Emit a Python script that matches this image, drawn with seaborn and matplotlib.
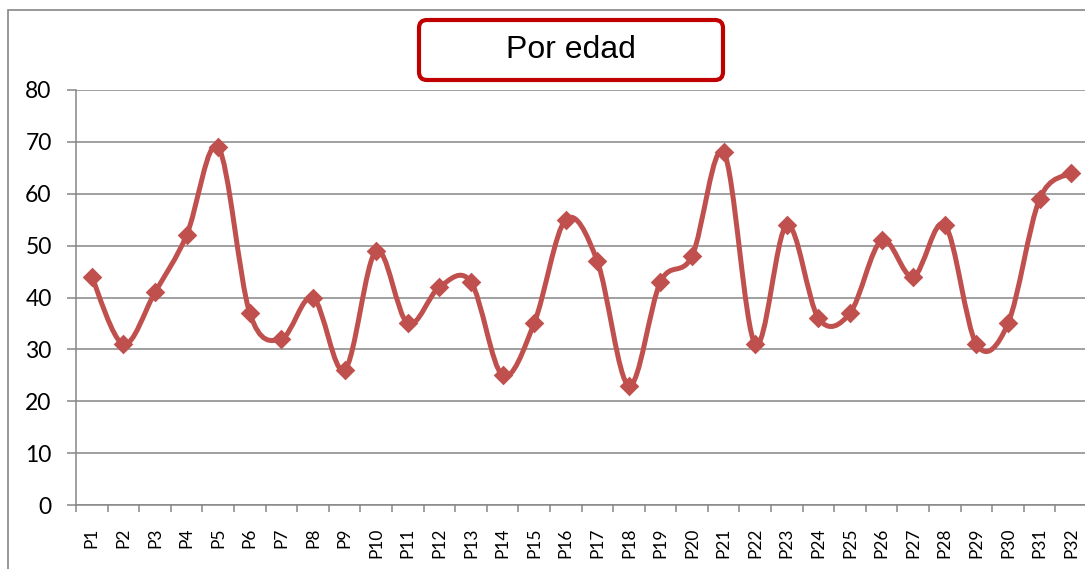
import matplotlib

matplotlib.use("Agg")
import matplotlib.pyplot as plt
from matplotlib.patches import FancyBboxPatch, PathPatch, Rectangle
from matplotlib.path import Path
import numpy as np
import pandas as pd
import seaborn as sns


LABELS = [f"P{i}" for i in range(1, 33)]
VALUES = [
    44, 31, 41, 52, 69, 37, 32, 40, 26, 49, 35, 42, 43, 25, 35, 55,
    47, 23, 43, 48, 68, 31, 54, 36, 37, 51, 44, 54, 31, 35, 59, 64,
]
TITLE = "Por edad"
Y_TICKS = list(range(0, 90, 10))

LINE_COLOR = "#C0504D"
GRID_COLOR = "#868686"
BOX_COLOR = "#C00000"


def smooth_path(x, y) -> Path:
    # Excel-style smoothed line: cubic Bezier segments through every point
    pts = np.column_stack([x, y]).astype(float)
    padded = np.vstack([pts[0], pts, pts[-1]])
    verts = [pts[0]]
    codes = [Path.MOVETO]
    for i in range(len(pts) - 1):
        p0, p1, p2, p3 = padded[i], padded[i + 1], padded[i + 2], padded[i + 3]
        verts += [p1 + (p2 - p0) / 6, p2 - (p3 - p1) / 6, p2]
        codes += [Path.CURVE4] * 3
    return Path(verts, codes)


def main() -> None:
    sns.set_style("white")
    plt.rcParams["font.family"] = ["Lato", "DejaVu Sans"]

    df = pd.DataFrame({"pos": np.arange(len(LABELS)), "label": LABELS, "value": VALUES})

    fig = plt.figure(figsize=(10.85, 5.69), dpi=100)
    ax = fig.add_axes([76 / 1085, 1 - 505 / 569, 1011 / 1085, 415 / 569])

    ax.add_patch(
        PathPatch(
            smooth_path(df["pos"], df["value"]),
            facecolor="none",
            edgecolor=LINE_COLOR,
            linewidth=3.6,
            capstyle="round",
            joinstyle="round",
            zorder=3,
        )
    )
    sns.scatterplot(
        data=df, x="pos", y="value", ax=ax, marker="D", s=100,
        color=LINE_COLOR, edgecolor=LINE_COLOR, linewidth=0, zorder=4, legend=False,
    )

    ax.set_xlim(-0.5, len(LABELS) - 0.5)
    ax.set_ylim(Y_TICKS[0], Y_TICKS[-1])
    ax.set_yticks(Y_TICKS)
    ax.set_xticks(df["pos"])
    ax.set_xticklabels(LABELS, rotation=90)
    ax.set_xticks(np.arange(len(LABELS) + 1) - 0.5, minor=True)
    ax.set_xlabel("")
    ax.set_ylabel("")

    ax.grid(True, axis="y", color=GRID_COLOR, linewidth=1.1)
    ax.set_axisbelow(True)
    for side in ["top", "right"]:
        ax.spines[side].set_visible(False)
    for side in ["left", "bottom"]:
        ax.spines[side].set_color(GRID_COLOR)
        ax.spines[side].set_linewidth(1.1)

    ax.tick_params(axis="y", direction="out", length=6.5, width=1.1, color=GRID_COLOR,
                   pad=11, labelsize=16.5, labelcolor="black", left=True)
    ax.tick_params(axis="x", which="major", length=0, pad=16, labelsize=12.5,
                   labelcolor="black")
    ax.tick_params(axis="x", which="minor", direction="out", length=5, width=1.1,
                   color=GRID_COLOR, bottom=True)

    # outer chart frame (cut off at the right and bottom edges)
    fig.add_artist(
        Rectangle((8 / 1085, -0.1), 1.2, 1 - 10 / 569 + 0.1, transform=fig.transFigure,
                  facecolor="none", edgecolor=GRID_COLOR, linewidth=1.2)
    )

    # title inside a rounded red box
    fig.add_artist(
        FancyBboxPatch((4.19, 4.89), 3.04, 0.60,
                       boxstyle="round,pad=0,rounding_size=0.08",
                       transform=fig.dpi_scale_trans,
                       facecolor="white", edgecolor=BOX_COLOR, linewidth=3)
    )
    fig.text(571 / 1085, 1 - 50 / 569, TITLE, ha="center", va="center",
             fontsize=23, family=["Liberation Sans", "DejaVu Sans"], color="black")

    fig.savefig("out.png", dpi=100)
    plt.close(fig)


if __name__ == "__main__":
    main()
